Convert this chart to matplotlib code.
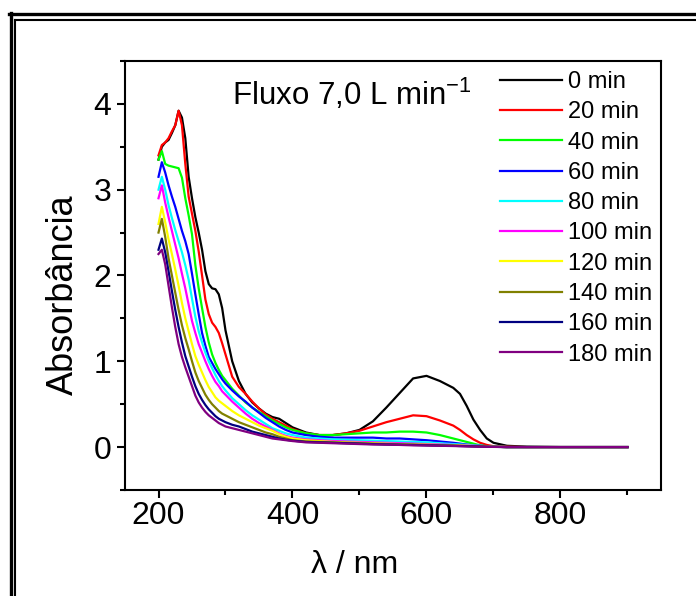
import matplotlib
matplotlib.use("Agg")
import matplotlib.pyplot as plt
from matplotlib.lines import Line2D
from matplotlib.ticker import MultipleLocator

plt.rcParams["font.family"] = ["Liberation Sans", "DejaVu Sans"]
plt.rcParams["mathtext.fontset"] = "custom"
plt.rcParams["mathtext.rm"] = "Liberation Sans"
plt.rcParams["mathtext.it"] = "Liberation Sans:italic"
plt.rcParams["mathtext.default"] = "regular"

# Wavelength grid (nm)
wavelength = [200, 205, 210, 215, 220, 225, 230, 235, 240, 245, 250, 255, 260, 265,
              270, 275, 280, 285, 290, 295, 300, 310, 320, 330, 340, 350, 360, 370,
              380, 390, 400, 420, 440, 460, 480, 500, 520, 540, 560, 580, 600, 620,
              640, 650, 660, 670, 680, 690, 700, 720, 750, 800, 850, 900]

abs_0 = [3.35, 3.50, 3.55, 3.58, 3.66, 3.75, 3.92, 3.84, 3.60, 3.15, 2.90, 2.68, 2.50, 2.30,
         2.05, 1.90, 1.85, 1.84, 1.78, 1.62, 1.36, 1.00, 0.77, 0.62, 0.52, 0.45, 0.39, 0.35,
         0.33, 0.28, 0.23, 0.17, 0.14, 0.14, 0.16, 0.20, 0.30, 0.46, 0.63, 0.80, 0.83, 0.77,
         0.69, 0.62, 0.48, 0.32, 0.20, 0.10, 0.05, 0.015, 0.005, 0.0, 0.0, 0.0]
abs_20 = [3.40, 3.52, 3.55, 3.60, 3.68, 3.75, 3.92, 3.75, 3.30, 2.92, 2.72, 2.52, 2.28, 2.00,
          1.72, 1.55, 1.45, 1.40, 1.33, 1.21, 1.08, 0.82, 0.70, 0.62, 0.53, 0.45, 0.38, 0.33,
          0.29, 0.25, 0.21, 0.16, 0.14, 0.14, 0.16, 0.19, 0.24, 0.29, 0.33, 0.37, 0.36, 0.31,
          0.25, 0.20, 0.14, 0.09, 0.05, 0.025, 0.01, 0.005, 0.0, 0.0, 0.0, 0.0]
abs_40 = [3.35, 3.45, 3.30, 3.28, 3.27, 3.26, 3.25, 3.14, 2.90, 2.70, 2.48, 2.12, 1.85, 1.62,
          1.40, 1.22, 1.08, 0.98, 0.90, 0.83, 0.78, 0.68, 0.60, 0.52, 0.46, 0.41, 0.36, 0.31,
          0.27, 0.23, 0.20, 0.16, 0.14, 0.14, 0.15, 0.16, 0.17, 0.17, 0.18, 0.18, 0.17, 0.14,
          0.10, 0.08, 0.06, 0.04, 0.02, 0.01, 0.005, 0.0, 0.0, 0.0, 0.0, 0.0]
abs_60 = [3.15, 3.32, 3.20, 3.05, 2.92, 2.80, 2.66, 2.52, 2.40, 2.25, 2.02, 1.78, 1.55, 1.33,
          1.18, 1.05, 0.98, 0.91, 0.85, 0.79, 0.74, 0.66, 0.59, 0.53, 0.46, 0.40, 0.34, 0.29,
          0.24, 0.20, 0.17, 0.14, 0.12, 0.11, 0.11, 0.11, 0.11, 0.10, 0.10, 0.09, 0.08, 0.065,
          0.05, 0.04, 0.03, 0.02, 0.015, 0.01, 0.005, 0.0, 0.0, 0.0, 0.0, 0.0]
abs_80 = [3.00, 3.15, 3.00, 2.82, 2.67, 2.53, 2.40, 2.27, 2.12, 1.95, 1.73, 1.52, 1.35, 1.22,
          1.10, 1.00, 0.92, 0.84, 0.77, 0.71, 0.66, 0.57, 0.50, 0.43, 0.37, 0.32, 0.27, 0.22,
          0.19, 0.16, 0.14, 0.11, 0.10, 0.09, 0.085, 0.08, 0.075, 0.07, 0.065, 0.06, 0.055, 0.045,
          0.035, 0.03, 0.025, 0.02, 0.015, 0.01, 0.005, 0.0, 0.0, 0.0, 0.0, 0.0]
abs_100 = [2.90, 3.05, 2.85, 2.68, 2.52, 2.36, 2.20, 2.02, 1.85, 1.66, 1.47, 1.33, 1.20, 1.10,
           1.00, 0.91, 0.83, 0.76, 0.71, 0.65, 0.61, 0.53, 0.46, 0.39, 0.33, 0.28, 0.24, 0.20,
           0.16, 0.13, 0.11, 0.09, 0.08, 0.07, 0.065, 0.06, 0.055, 0.05, 0.045, 0.04, 0.035, 0.03,
           0.025, 0.02, 0.018, 0.015, 0.012, 0.01, 0.005, 0.0, 0.0, 0.0, 0.0, 0.0]
abs_120 = [2.60, 2.80, 2.62, 2.42, 2.25, 2.07, 1.88, 1.68, 1.50, 1.35, 1.20, 1.06, 0.96, 0.87,
           0.78, 0.70, 0.64, 0.58, 0.54, 0.51, 0.48, 0.42, 0.37, 0.33, 0.29, 0.25, 0.22, 0.19,
           0.15, 0.12, 0.10, 0.08, 0.07, 0.06, 0.055, 0.05, 0.045, 0.04, 0.035, 0.03, 0.028, 0.025,
           0.02, 0.018, 0.015, 0.012, 0.01, 0.008, 0.005, 0.0, 0.0, 0.0, 0.0, 0.0]
abs_140 = [2.50, 2.66, 2.45, 2.20, 2.00, 1.80, 1.60, 1.42, 1.27, 1.14, 1.00, 0.87, 0.77, 0.69,
           0.61, 0.55, 0.50, 0.46, 0.42, 0.39, 0.37, 0.33, 0.29, 0.26, 0.23, 0.20, 0.17, 0.15,
           0.12, 0.10, 0.08, 0.065, 0.06, 0.055, 0.05, 0.045, 0.04, 0.035, 0.03, 0.028, 0.025, 0.02,
           0.018, 0.015, 0.012, 0.01, 0.008, 0.006, 0.004, 0.0, 0.0, 0.0, 0.0, 0.0]
abs_160 = [2.30, 2.43, 2.27, 2.05, 1.82, 1.60, 1.40, 1.22, 1.06, 0.94, 0.82, 0.71, 0.62, 0.55,
           0.49, 0.44, 0.40, 0.36, 0.33, 0.31, 0.29, 0.26, 0.24, 0.21, 0.18, 0.16, 0.14, 0.12,
           0.10, 0.085, 0.075, 0.06, 0.055, 0.05, 0.045, 0.04, 0.035, 0.03, 0.028, 0.025, 0.02, 0.018,
           0.015, 0.012, 0.01, 0.008, 0.006, 0.004, 0.003, 0.0, 0.0, 0.0, 0.0, 0.0]
abs_180 = [2.25, 2.30, 2.13, 1.88, 1.63, 1.40, 1.20, 1.05, 0.93, 0.82, 0.71, 0.60, 0.52, 0.46,
           0.41, 0.37, 0.34, 0.31, 0.28, 0.26, 0.24, 0.22, 0.20, 0.18, 0.16, 0.14, 0.12, 0.10,
           0.09, 0.08, 0.07, 0.055, 0.05, 0.045, 0.04, 0.035, 0.03, 0.028, 0.025, 0.02, 0.018, 0.015,
           0.012, 0.01, 0.008, 0.006, 0.004, 0.003, 0.002, 0.0, 0.0, 0.0, 0.0, 0.0]

series_labels = ["0 min", "20 min", "40 min", "60 min", "80 min",
                 "100 min", "120 min", "140 min", "160 min", "180 min"]
series_colors = ["#000000", "#FF0000", "#00FF00", "#0000FF", "#00FFFF",
                 "#FF00FF", "#FFFF00", "#808000", "#000080", "#800080"]
series_values = [abs_0, abs_20, abs_40, abs_60, abs_80,
                 abs_100, abs_120, abs_140, abs_160, abs_180]

fig = plt.figure(figsize=(6.96, 5.96), dpi=100)
ax = fig.add_axes([0.1796, 0.1779, 0.9497 - 0.1796, 0.8977 - 0.1779])

for vals, col, lab in zip(series_values, series_colors, series_labels):
    ax.plot(wavelength, vals, color=col, lw=1.6, label=lab)

ax.set_xlim(150, 950)
ax.set_ylim(-0.5, 4.5)
ax.xaxis.set_major_locator(MultipleLocator(200))
ax.xaxis.set_minor_locator(MultipleLocator(100))
ax.yaxis.set_major_locator(MultipleLocator(1))
ax.yaxis.set_minor_locator(MultipleLocator(0.5))
ax.tick_params(which="both", direction="out", top=False, right=False, width=1.5)
ax.tick_params(which="major", length=5.8, labelsize=23)
ax.tick_params(axis="y", which="major", pad=4)
ax.tick_params(axis="x", which="major", pad=2.5)
ax.tick_params(which="minor", length=3.5)
for sp in ax.spines.values():
    sp.set_linewidth(1.5)

ax.set_xlabel("λ / nm", fontsize=23)
ax.xaxis.set_label_coords(0.429, -0.14)
ax.set_ylabel("Absorbância", fontsize=26)
ax.yaxis.set_label_coords(-0.083, 0.455)

ax.text(0.2, 0.897, "Fluxo 7,0 L min$^{-1}$", transform=ax.transAxes,
        fontsize=22.5, va="baseline", ha="left")

leg = ax.legend(loc="upper left", bbox_to_anchor=(0.689, 0.99), frameon=False,
                fontsize=17, handlelength=2.63, handletextpad=0.25,
                labelspacing=0.35, borderaxespad=0.0, borderpad=0.25)
for h in leg.get_lines():
    h.set_linewidth(1.6)

# double frame around the figure (left and top edges)
W, H = 696.0, 596.0
fig.add_artist(Line2D([9 / W, 1.0], [1 - 14 / H, 1 - 14 / H], color="black", lw=2.4,
                      transform=fig.transFigure))
fig.add_artist(Line2D([10.5 / W, 10.5 / W], [1 - 13 / H, 0.0], color="black", lw=2.4,
                      transform=fig.transFigure))
fig.add_artist(Line2D([15 / W, 1.0], [1 - 19.5 / H, 1 - 19.5 / H], color="black", lw=1.5,
                      transform=fig.transFigure))
fig.add_artist(Line2D([15 / W, 15 / W], [1 - 19.5 / H, 0.0], color="black", lw=1.5,
                      transform=fig.transFigure))

fig.savefig("out.png", dpi=100)
